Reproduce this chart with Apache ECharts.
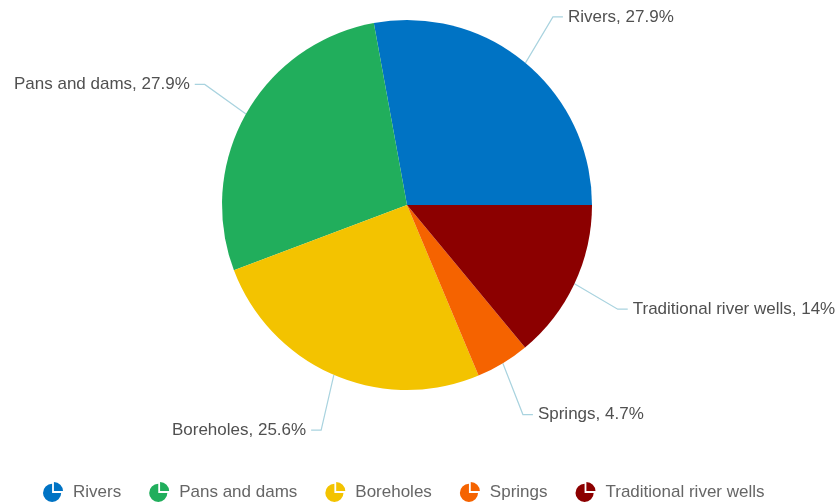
<!DOCTYPE html>
<html>
<head>
<meta charset="utf-8">
<script src="https://cdn.jsdelivr.net/npm/echarts@6/dist/echarts.min.js"></script>
<style>html,body{margin:0;padding:0;background:#fff}#c{width:839px;height:504px}</style>
</head>
<body>
<div id="c"></div>
<script>
const categories = ['Rivers', 'Pans and dams', 'Boreholes', 'Springs', 'Traditional river wells'];
const values = [27.9, 27.9, 25.6, 4.7, 14];
const colors = ['#0073C4', '#21AE5C', '#F3C300', '#F56300', '#8C0000'];

const icon = 'path://M0,0 L0,-10 A10,10 0 1,0 10,0 Z M2,-2 L2,-12 A10,10 0 0,1 12,-2 Z';

const chart = echarts.init(document.getElementById('c'));
chart.setOption({
  animation: false,
  color: colors,
  legend: {
    top: 477,
    left: 38,
    icon: icon,
    itemWidth: 20,
    itemHeight: 20,
    itemGap: 28,
    textStyle: { fontFamily: 'Liberation Sans', fontSize: 17, color: '#666', padding: [0, 0, 0, 5] },
    data: categories
  },
  series: [{
    type: 'pie',
    center: [407, 205],
    radius: 185,
    startAngle: 0,
    clockwise: false,
    avoidLabelOverlap: false,
    label: {
      formatter: function (p) { return p.name + ', ' + p.value + '%'; },
      fontFamily: 'Liberation Sans',
      fontSize: 17,
      color: '#505050'
    },
    labelLine: {
      length: 60,
      length2: 10,
      lineStyle: { color: '#A9D3DF', width: 1.2 }
    },
    labelLayout: function (params) {
      const pts = params.labelLinePoints;
      if (!pts) return {};
      const right = pts[2][0] > pts[1][0];
      const s = right ? -11 : 11;
      return {
        dx: s,
        labelLinePoints: [pts[0], [pts[1][0] + s, pts[1][1]], [pts[2][0] + s, pts[2][1]]]
      };
    },
    itemStyle: { borderWidth: 0 },
    data: categories.map((c, i) => ({ name: c, value: values[i] }))
  }]
});
</script>
</body>
</html>
